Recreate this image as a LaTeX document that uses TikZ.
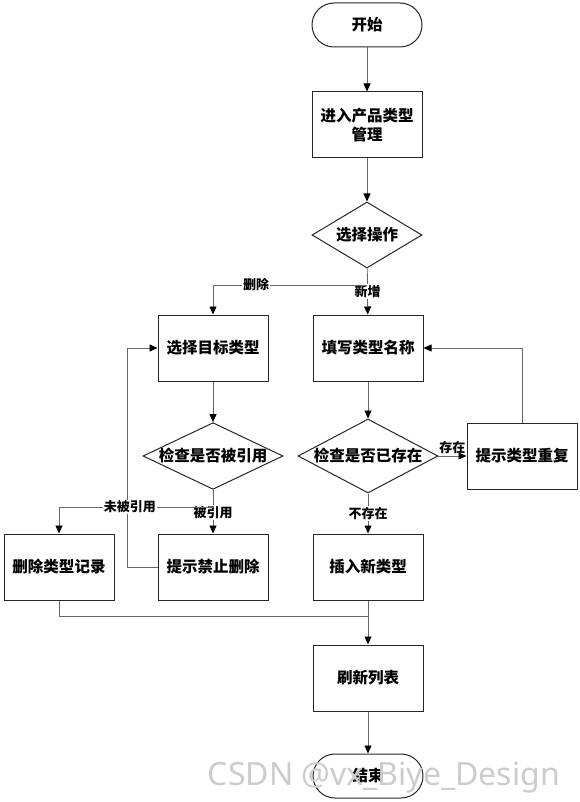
\documentclass[tikz,border=0pt]{standalone}
\usepackage{fontspec}
\setmainfont{Noto Sans CJK SC}
\newfontfamily\marksans{Noto Sans}
\usepackage{tikz}
\usetikzlibrary{shapes.geometric,arrows.meta}
\tikzset{
  base/.style={draw=black!85,line width=1pt,font=\fontsize{15.5}{19}\selectfont\bfseries,align=center,inner sep=0pt},
  term/.style={base,rectangle,rounded corners=22pt,minimum width=110pt,minimum height=44pt},
  proc/.style={base,rectangle,minimum width=110pt,minimum height=66pt},
  dec/.style={base,diamond,aspect=2.1,minimum width=110pt,minimum height=66pt},
  line/.style={draw=black!60,line width=0.8pt},
  arr/.style={line,-{Triangle[length=8pt,width=7pt,color=black]}},
  lbl/.style={fill=white,inner sep=1pt,font=\fontsize{13}{15}\selectfont\bfseries}
}
\begin{document}
\begin{tikzpicture}[x=1pt,y=-1pt]
  \useasboundingbox (0,0) rectangle (580,802);
  % nodes
	\node [term] (0) at (367, 25) {开始};
	\node [proc] (1) at (367, 125) {进入产品类型\\管理};
	\node [dec] (2) at (367, 235) {选择操作};
	\node [proc] (3) at (213, 348) {选择目标类型};
	\node [proc] (4) at (368, 348) {填写类型名称};
	\node [dec,minimum width=140pt] (5) at (213, 456) {检查是否被引用};
	\node [dec,minimum width=139pt,minimum height=74pt] (6) at (368, 456) {检查是否已存在};
	\node [proc] (7) at (522, 456) {提示类型重复};
	\node [proc] (8) at (59, 567) {删除类型记录};
	\node [proc] (9) at (213, 567) {提示禁止删除};
	\node [proc] (10) at (368, 567) {插入新类型};
	\node [proc] (11) at (368, 678) {刷新列表};
	\node [term] (12) at (368, 776) {结束};
	%% bends
	\coordinate (13) at (367, 285);
	\coordinate (14) at (213, 507);
	\coordinate (15) at (127, 567);
	\coordinate (16) at (368, 616);
	% edges
	\draw [arr] (0) to (1);
	\draw [arr] (1) to (2);
	\draw [arr] (2) to node [lbl,pos=0.5] {新增} (4);
	\draw [arr] (13) -| node [lbl,pos=0.36] {删除} (3);
	\draw [arr] (3) to (5);
	\draw [arr] (4) to (6);
	\draw [arr] (6) to node [lbl,fill=none,above=1pt] {存在} (7);
	\draw [arr] (7) |- (4);
	\draw [arr] (6) to node [lbl] {不存在} (10);
	%% loop back
	\draw [arr] (9.west) to (15) |- (3.west);
	\draw [arr] (5) to node [lbl,pos=0.52] {被引用} (9);
	\draw [arr] (14) -| node [lbl,pos=0.27] {未被引用} (8);
	%% join
	\draw [line] (8) |- (16);
	\draw [arr] (10) to (11);
	\draw [arr] (11) to (12);
	% watermark
	\node [text=black!20,font=\marksans\fontsize{32}{36}\selectfont] (17) at (384, 778) {CSDN @vx\_Biye\_Design};
\end{tikzpicture}
\end{document}
